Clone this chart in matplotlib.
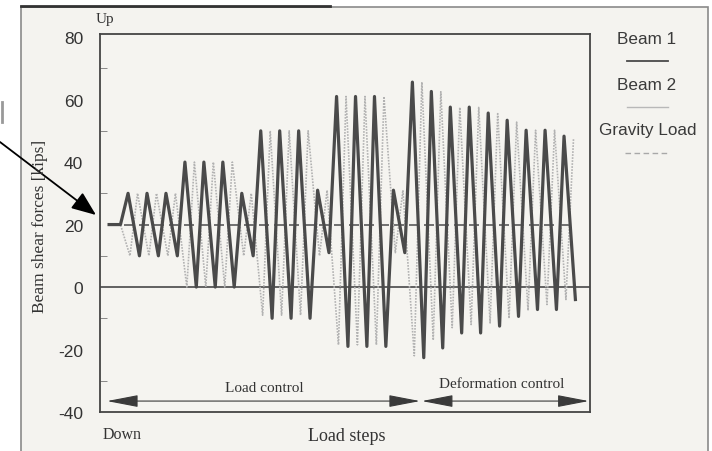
import numpy as np
import matplotlib
matplotlib.use('Agg')
import matplotlib.pyplot as plt
from matplotlib.patches import Rectangle
from matplotlib.lines import Line2D

plt.rcParams['axes.unicode_minus'] = False

# cycle peaks / troughs of beam shear (kips), one entry per loading cycle
beam1_peak = [30, 30, 30, 40, 40, 40, 30, 50, 50, 50, 31, 61, 61, 61, 31,
              65.6, 62.6, 57.6, 57.6, 55.7, 53.4, 50.2, 50.2, 48.3]
beam1_trough = [10, 10, 10, 0, 0, 0, 10, -10, -10, -10, 11, -19, -19, -19, 11,
                -22.6, -19.5, -14.7, -14.7, -12.5, -9.4, -7.2, -7.2, -4]
beam2_peak = [30, 30, 30, 40, 40, 40, 30, 50, 50, 50, 31, 61, 61, 61, 31,
              65.6, 62.5, 57.5, 57.5, 55.5, 52.8, 50.2, 50.2, 47.5]
beam2_trough = [10, 10, 10, 0, 0, 0, 10, -9, -9, -9, 10, -18.5, -18.5, -18.5, 11,
                -22, -17, -13, -12, -11.5, -10, -7.5, -5.6, -4]
gravity = 20
start_steps = [0, 6]

ncyc = len(beam1_peak)
cyc = np.arange(ncyc) * 10

# beam 1: peak then trough; beam 2 runs half a cycle out of phase
x1 = list(start_steps) + list(np.ravel(np.column_stack([cyc + 10, cyc + 16])))
y1 = [gravity, gravity] + list(np.ravel(np.column_stack([beam1_peak, beam1_trough])))
x2 = list(start_steps) + list(np.ravel(np.column_stack([cyc + 11, cyc + 15])))
y2 = [gravity, gravity] + list(np.ravel(np.column_stack([beam2_trough, beam2_peak])))

fig = plt.figure(figsize=(7.12, 4.52), dpi=100)
fig.patch.set_facecolor('white')
W, H = 712.0, 452.0

# scanned page frame
fig.add_artist(Rectangle((21 / W, -0.02), 687 / W, 1 - 8 / H + 0.02, transform=fig.transFigure,
                         fc='#f4f3ef', ec='#8a8a8a', lw=1.2, zorder=-5))
fig.add_artist(Line2D([21 / W, 330 / W], [1 - 7 / H, 1 - 7 / H], transform=fig.transFigure,
                      color='#333333', lw=2))

ax = fig.add_axes([100 / W, 1 - 413 / H, 490 / W, 378 / H])
ax.set_facecolor('#f5f4f0')

ax.axhline(0, color='#555555', lw=1.3, zorder=1)
ax.plot([x1[0], x2[-1]], [gravity, gravity], color='#5a5a5a', lw=1.2, dashes=(6, 3), zorder=2)
ax.plot(x2, y2, color='#b2b2b2', lw=1.2, linestyle=(0, (1.0, 0.8)), zorder=3)
ax.plot(x1, y1, color='#4a4a4a', lw=2.3, zorder=4)

ax.set_xlim(-4.8, 253.7)
ax.set_ylim(-40, 81)
ax.set_xticks([])
ax.set_yticks([-40, -20, 0, 20, 40, 60, 80])
ax.set_yticks([-30, -10, 10, 30, 50, 70], minor=True)
ax.tick_params(axis='y', which='major', length=0, pad=12, labelsize=12.5, labelcolor='#333333')
ax.tick_params(axis='y', which='minor', direction='in', length=5, color='#777777')
for lab in ax.get_yticklabels():
    lab.set_family('Liberation Sans')
for sp in ax.spines.values():
    sp.set_color('#444444')
    sp.set_linewidth(1.3)

# control regime arrows
arr = dict(arrowstyle='<|-|>,head_length=1.3,head_width=0.25', color='#3a3a3a', lw=0.8,
           mutation_scale=15, shrinkA=0, shrinkB=0)
ax.annotate('', xy=(-1.1, -36.5), xytext=(164, -36.5), arrowprops=arr)
ax.annotate('', xy=(165, -36.5), xytext=(253, -36.5), arrowprops=arr)
ax.text(82, -32, 'Load control', family='Liberation Serif', fontsize=11, color='#333333',
        ha='center', va='center')
ax.text(207, -31, 'Deformation control', family='Liberation Serif', fontsize=11, color='#333333',
        ha='center', va='center')

serif = dict(family='Liberation Serif', color='#333333')
fig.text(40 / W, 1 - 226 / H, 'Beam shear forces [kips]', rotation=90, fontsize=12.5,
         ha='center', va='center', **serif)
fig.text(105 / W, 1 - 19 / H, 'Up', fontsize=11, ha='center', va='center', **serif)
fig.text(122 / W, 1 - 435 / H, 'Down', fontsize=11.5, ha='center', va='center', **serif)
fig.text(347 / W, 1 - 437 / H, 'Load steps', fontsize=13, ha='center', va='center', **serif)

# legend column
sans = dict(family='Liberation Sans', color='#3a3a3a', fontsize=12.3, ha='center', va='center')
fig.text(647 / W, 1 - 40 / H, 'Beam 1', **sans)
fig.text(647 / W, 1 - 86 / H, 'Beam 2', **sans)
fig.text(648 / W, 1 - 131 / H, 'Gravity Load', **sans)
fig.add_artist(Line2D([627 / W, 668 / W], [1 - 62 / H] * 2, transform=fig.transFigure,
                      color='#4a4a4a', lw=1.3))
fig.add_artist(Line2D([627 / W, 668 / W], [1 - 108 / H] * 2, transform=fig.transFigure,
                      color='#b8b8b8', lw=1.0))
fig.add_artist(Line2D([625 / W, 668 / W], [1 - 154 / H] * 2, transform=fig.transFigure,
                      color='#a8a8a8', lw=1.0, dashes=(4, 2.5)))

# pointer arrow coming in from the left margin
ax.annotate('', xy=(96, H - 216), xycoords='figure pixels', xytext=(0, H - 143),
            textcoords='figure pixels',
            arrowprops=dict(arrowstyle='-|>,head_length=1.0,head_width=0.4', color='black',
                            lw=1.3, mutation_scale=15, shrinkA=0, shrinkB=0))
fig.add_artist(Line2D([1.5 / W, 1.5 / W], [1 - 103 / H, 1 - 123 / H], transform=fig.transFigure,
                      color='#999999', lw=2))

fig.savefig('out.png', dpi=100)
